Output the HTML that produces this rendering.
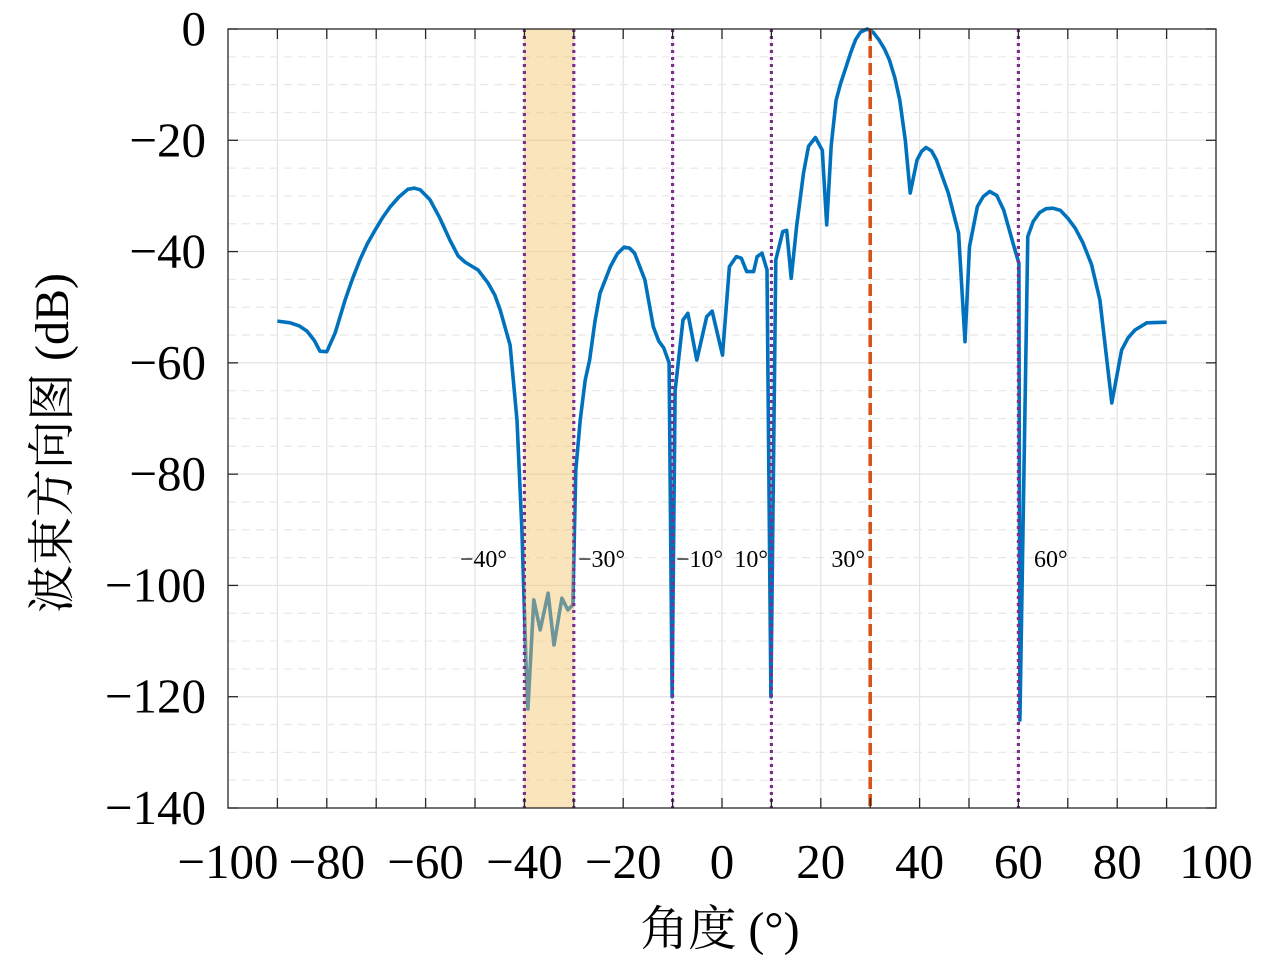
<!DOCTYPE html>
<html><head><meta charset="utf-8"><style>
body{margin:0;background:#fff;}
svg text{font-family:"Liberation Serif","Noto Serif CJK SC",serif;}
</style></head><body>
<svg id="chart" width="1280" height="959" xmlns="http://www.w3.org/2000/svg">
<rect width="1280" height="959" fill="#fff"/>
<g id="grid"></g>
<g id="curve"></g>
<g id="overlay"></g>
<g id="axes"></g>
</svg>
<script>
const angles=[-90,-87.4,-85.5,-84,-82.5,-81.4,-80,-78.3,-76.3,-74.8,-73.3,-71.8,-70.2,-68.7,-67.2,-65.4,-63.6,-62.3,-61.1,-59.1,-57.1,-55.1,-53.4,-52,-50.7,-49.4,-47.4,-46,-44.9,-42.9,-41.5,-40.5,-39.7,-39.3,-38.1,-36.8,-35.2,-34,-32.4,-31.2,-30.2,-29.6,-28.7,-27.7,-26.8,-25.7,-24.7,-22.6,-21.2,-19.8,-18.7,-17.7,-15.6,-13.9,-12.8,-11.8,-10.7,-10.1,-9.5,-7.9,-6.9,-5.1,-3.1,-2.0,0.1,1.5,2.9,3.9,5.0,6.4,7.1,8.1,9.1,9.9,10.9,12.3,13.1,14.0,15.1,16.5,17.5,18.9,20.3,21.2,22.1,23.1,24.0,24.9,26,27.0,28,29.4,30.6,31.8,32.9,33.9,35,36.0,37.1,38.1,39.5,40.4,41.3,42.4,43.4,45.8,47.9,49.2,50.1,51.7,52.9,54.2,55.6,57.0,59.1,60.1,60.3,61.9,63,64.3,65.6,67,68.5,70,71.5,73,74.8,76.5,78.9,80.9,82.2,83.6,86,90];
const gains=[-52.5,-52.8,-53.4,-54.3,-56,-57.9,-58,-54.6,-48.7,-44.9,-41.5,-38.6,-36.1,-33.9,-32,-30.2,-28.8,-28.6,-28.9,-30.7,-34,-37.9,-40.8,-41.9,-42.6,-43.3,-45.6,-47.8,-50.5,-56.8,-70.3,-90,-113.4,-122.2,-102.6,-108,-101.4,-110.7,-102.3,-104.4,-103.5,-79.3,-70.3,-63.1,-59.5,-52.5,-47.5,-42.7,-40.4,-39.2,-39.4,-40.3,-45.1,-53.5,-56.1,-57.3,-60,-120,-65,-52.3,-51.1,-59.5,-51.7,-50.7,-58.6,-42.7,-40.9,-41.2,-43.6,-43.6,-40.9,-40.3,-43.3,-120,-41.5,-36.4,-36.2,-44.8,-35.5,-25.9,-21.1,-19.5,-21.8,-35.2,-21.0,-12.8,-9.8,-7.4,-4.4,-2.0,-0.6,0,-0.6,-2.0,-3.6,-5.6,-8.8,-12.8,-20,-29.5,-23.5,-22,-21.3,-21.9,-23.5,-29.5,-36.7,-56.2,-39.1,-31.9,-30.1,-29.2,-29.9,-32.5,-39.1,-42.1,-124.2,-37.3,-34.6,-33.0,-32.3,-32.2,-32.6,-34,-35.8,-38.3,-42.3,-48.7,-67.2,-57.7,-55.5,-54.1,-52.8,-52.7];
const nullAngles=[-40,-30,-10,10,60];
const nullLabels=["−40°","−30°","−10°","10°","60°"];
const targetAngle=30;
const targetLabel="30°";
const xTicks=[-100,-80,-60,-40,-20,0,20,40,60,80,100];
const yTicks=[0,-20,-40,-60,-80,-100,-120,-140];
const shadedBand=[-40,-30];

const L=228,R=1216,T=29,B=808;
const sx=v=>L+(v+100)/200*(R-L);
const sy=v=>T+(0-v)/140*(B-T);
const NS="http://www.w3.org/2000/svg";
function mk(parent,tag,attrs){const e=document.createElementNS(NS,tag);for(const k in attrs)e.setAttribute(k,attrs[k]);document.getElementById(parent).appendChild(e);return e;}

for(let v=-90;v<=90;v+=10){const l=mk('grid','line',{x1:sx(v),x2:sx(v),y1:T,y2:B,stroke:'#e3e3e3','stroke-width':1.2});

}
for(let v=-135;v<0;v+=5){const major=v%20===0;const l=mk('grid','line',{x1:L,x2:R,y1:sy(v),y2:sy(v),stroke:major?'#e3e3e3':'#e8e8e8','stroke-width':1.2,'stroke-dasharray':major?'':'8,6'});

}

const pts=angles.map((a,i)=>sx(a).toFixed(1)+','+sy(gains[i]).toFixed(1)).join(' ');
const c=mk('curve','polyline',{points:pts,fill:'none',stroke:'#0072bd','stroke-width':3.6,'stroke-linejoin':'round'});



const band=mk('overlay','rect',{x:sx(shadedBand[0]),y:T,width:sx(shadedBand[1])-sx(shadedBand[0]),height:B-T,fill:'#f5c46a','fill-opacity':0.45});


const labelX={"-40":507,"-30":578,"-10":676,"10":768,"60":1034};
nullAngles.forEach((a,i)=>{
 const l=mk('overlay','line',{x1:sx(a),x2:sx(a),y1:T,y2:B,stroke:'#7e2f8e','stroke-width':3.2,'stroke-dasharray':'3,4'});
 
 
 const endA=(a===-40||a===10);
 const t=mk('overlay','text',{x:labelX[String(a)],y:567,'font-size':24,'text-anchor':endA?'end':'start',fill:'#000'});
 t.textContent=nullLabels[i];
 
 
});
const tl=mk('overlay','line',{x1:sx(targetAngle),x2:sx(targetAngle),y1:T,y2:B,stroke:'#d95319','stroke-width':3.6,'stroke-dasharray':'12,5'});


const tt=mk('overlay','text',{x:865,y:567,'font-size':24,'text-anchor':'end'});
tt.textContent=targetLabel;



const box=mk('axes','rect',{x:L,y:T,width:R-L,height:B-T,fill:'none',stroke:'#262626','stroke-width':1.3});


for(let v=-90;v<=90;v+=10){
 mk('axes','line',{x1:sx(v),x2:sx(v),y1:B,y2:B-10,stroke:'#262626','stroke-width':1.3});
 mk('axes','line',{x1:sx(v),x2:sx(v),y1:T,y2:T+10,stroke:'#262626','stroke-width':1.3});
}
xTicks.forEach(v=>{const t=mk('axes','text',{x:sx(v),y:878,'font-size':49,'text-anchor':'middle'});
 t.textContent=v<0?'−'+(-v):String(v);
 
 });
yTicks.forEach(v=>{
 mk('axes','line',{x1:L,x2:L+10,y1:sy(v),y2:sy(v),stroke:'#262626','stroke-width':1.3});
 mk('axes','line',{x1:R,x2:R-10,y1:sy(v),y2:sy(v),stroke:'#262626','stroke-width':1.3});
 const t=mk('axes','text',{x:206,y:sy(v)+16,'font-size':49,'text-anchor':'end'});
 t.textContent=v<0?'−'+(-v):String(v);
 
 });
const xt=mk('axes','text',{x:720,y:945,'font-size':48,'text-anchor':'middle'});
xt.textContent='角度 (°)';


const yt=mk('axes','text',{x:0,y:0,'font-size':48,'text-anchor':'middle',transform:'translate(68,443) rotate(-90)'});
yt.textContent='波束方向图 (dB)';


</script>
</body></html>
